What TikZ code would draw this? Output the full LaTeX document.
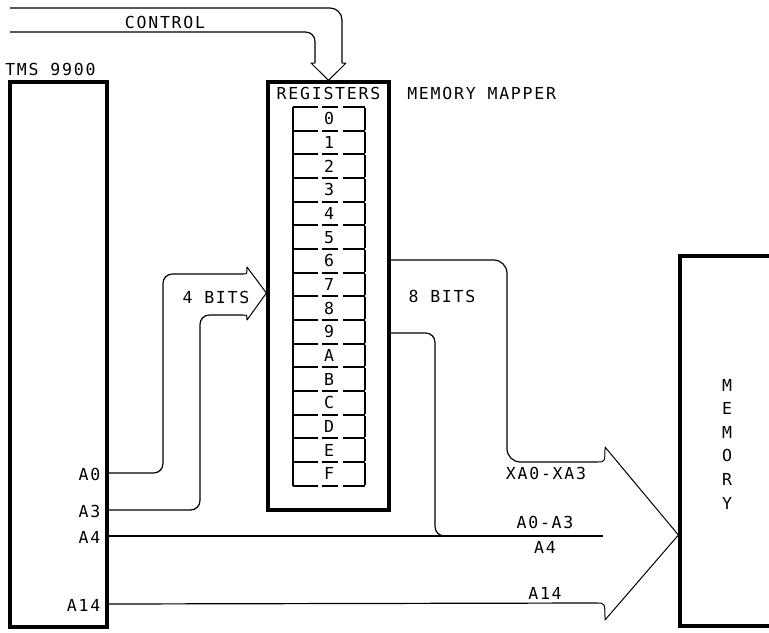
\documentclass[tikz,border=0pt]{standalone}
\usepackage{fontspec}
\newfontfamily\plotfont[LetterSpace=10.7]{DejaVu Sans Mono}
\usepackage{tikz}
\usetikzlibrary{positioning}

\begin{document}
\begin{tikzpicture}[x=0.75pt,y=-0.75pt,
      blk/.style={draw,line width=2.4pt,inner sep=0pt},
      reg/.style={minimum width=54pt,minimum height=17.75pt,inner sep=0pt,font=\plotfont\fontsize{12.4}{13}\selectfont},
      txt/.style={inner sep=0pt,font=\plotfont\fontsize{12.4}{14}\selectfont},
      wire/.style={line width=0.9pt,rounded corners=7pt},
      head/.style={line width=0.75pt,line join=round}]
    \useasboundingbox (0,0) rectangle (769,633);
    \clip (0,0) rectangle (769,633);
    % blocks
    \node[blk,minimum width=72.75pt,minimum height=408.75pt] (cpu) at (58.5,354.5) {};
    \node[txt,anchor=west] (cpuname) at (5,69) {TMS 9900};
    \node[blk,minimum width=90.75pt,minimum height=321pt] (regs) at (328.5,296) {};
    \node[txt] (regname) at (328.5,93) {REGISTERS};
    \node[txt,anchor=west] (mapname) at (407,93) {MEMORY MAPPER};
    \node[blk,minimum width=90pt,minimum height=277.5pt] (mem) at (740,441) {};
    \foreach \k/\c in {0/M,1/E,2/M,3/O,4/R,5/Y} \node[txt] (m\k) at (727,385+23.6*\k) {\c};
    % register file
    \foreach \i/\r in {0/0,1/1,2/2,3/3,4/4,5/5,6/6,7/7,8/8,9/9,10/A,11/B,12/C,13/D,14/E,15/F} {
      \node[reg] (c\i) at (329,118.8+23.67*\i) {\r};
      \draw[line width=1.3pt,shorten <=1pt,shorten >=1pt] (c\i.north west) -- (c\i.south west) (c\i.north east) -- (c\i.south east);
      \draw[line width=1.3pt,dash pattern=on 18.75pt off 3pt on 12pt off 3.75pt on 16.5pt off 20pt] (c\i.north west) -- (c\i.north east) (c\i.south west) -- (c\i.south east);
    }
    % pins of the cpu
    \foreach \n/\y in {A0/473,A3/510,A4/536,A14/604} {
      \coordinate (p\n) at (cpu.east |- 0,\y);
      \node[txt,anchor=east] (l\n) at ([xshift=-6pt,yshift=-0.75pt]p\n) {\n};
    }
    % control bus
    \coordinate (ctlA) at (10,8); \coordinate (ctlB) at (10,32);
    \draw[wire,rounded corners=9pt] (ctlA) -- (342,8) -- (342,63);
    \draw[wire] (ctlB) -- (315,32) -- (315,63);
    \draw[head] (342,63) -- (346,63) -- (regs.north) -- (311,63) -- (315,63);
    \node[txt] (ctlname) at (165,22) {CONTROL};
    % 4 bits into the mapper
    \draw[wire] (pA0) -- (163,473) -- (163,274) -- (243,274);
    \draw[wire] (pA3) -- (200,510) -- (200,315) -- (243,315);
    \draw[head] (243,274) .. controls (247,274) .. (247,267) -- (regs.west |- 0,293) -- (247,320) .. controls (247,315) .. (243,315);
    \node[txt] (fourbits) at (216,297) {4 BITS};
    % 8 bits out to memory
    \coordinate (memtip) at (mem.west |- 0,535);
    \draw[wire,rounded corners=10pt] (regs.east |- 0,260) -- (507,260) -- (507,462) -- (597,462);
    \draw[wire] (regs.east |- 0,333) -- (435,333) -- (435,536) -- (475,536);
    \draw[wire] (pA4) -- (603,536);
    \draw[wire] (pA14) -- (597,603);
    \draw[head] (597,462) .. controls (605,462) .. (605,447) -- (memtip) -- (605,620) .. controls (605,603) .. (597,603);
    \node[txt] (eightbits) at (442,296) {8 BITS};
    \node[txt] (xaddr) at (546,473) {XA0-XA3};
    \node[txt] (loaddr) at (545,522) {A0-A3};
    \node[txt] (a4name) at (545,547) {A4};
    \node[txt] (a14name) at (545,593) {A14};
  \end{tikzpicture}
\end{document}
